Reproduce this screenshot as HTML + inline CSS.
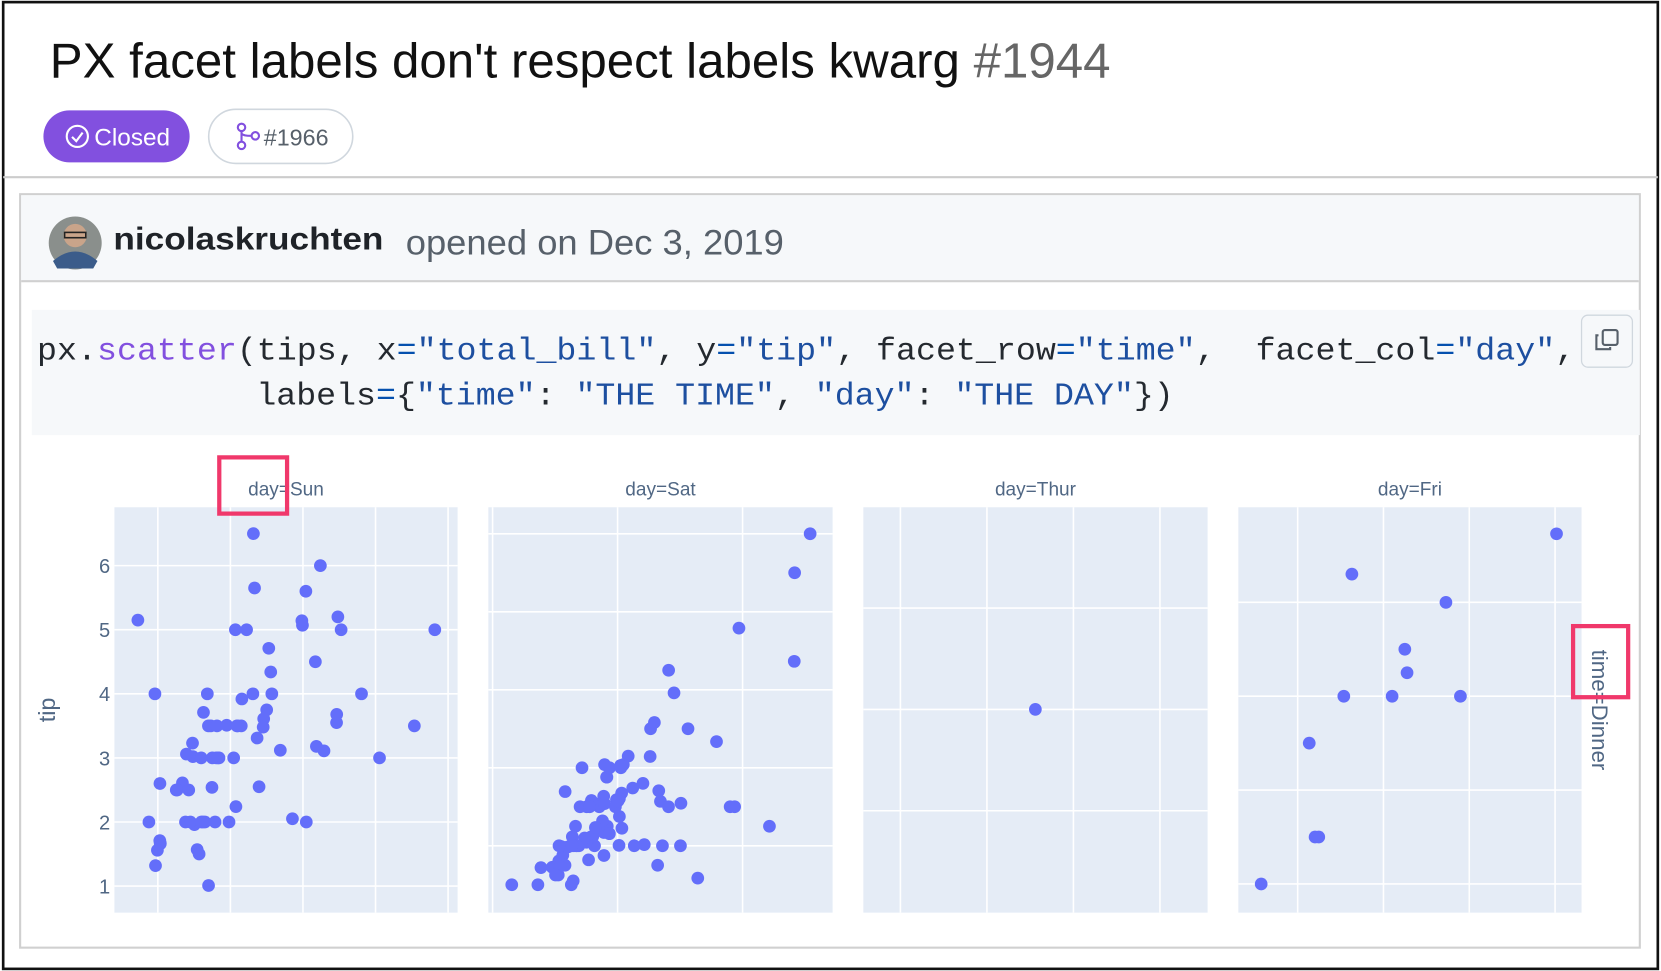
<!DOCTYPE html>
<html><head><meta charset="utf-8">
<style>
html,body{margin:0;padding:0;background:#fff;}
svg{display:block;}
</style></head>
<body>
<svg id="root" width="1661" height="971" viewBox="0 0 1568 915" preserveAspectRatio="none" xmlns="http://www.w3.org/2000/svg">
  <rect x="0" y="0" width="1568" height="915" fill="#fff"/>
  <rect x="3" y="2" width="1562" height="911" fill="none" stroke="#111" stroke-width="2.5"/>
  <text x="47" y="73" font-family="Liberation Sans, sans-serif" font-size="46.5" fill="#111">PX facet labels don't respect labels kwarg <tspan fill="#666">#1944</tspan></text>
  <g>
    <rect x="41" y="104" width="138" height="49" rx="24.5" fill="#8250df"/>
    <circle cx="73" cy="128.5" r="10" fill="none" stroke="#fff" stroke-width="2"/>
    <path d="M68 129 l4 4 l6 -8" fill="none" stroke="#fff" stroke-width="2"/>
    <text x="89" y="137" font-family="Liberation Sans, sans-serif" font-size="23" fill="#fff">Closed</text>
  </g>
  <g>
    <rect x="197" y="103" width="136" height="51" rx="25.5" fill="#fff" stroke="#d0d7de" stroke-width="1.5"/>
    <circle cx="228" cy="120" r="3.5" fill="none" stroke="#8250df" stroke-width="2"/>
    <circle cx="228" cy="137" r="3.5" fill="none" stroke="#8250df" stroke-width="2"/>
    <circle cx="241" cy="128" r="3.5" fill="none" stroke="#8250df" stroke-width="2"/>
    <path d="M228 123 v10 M228 126 q2 2 9 2" fill="none" stroke="#8250df" stroke-width="2"/>
    <text x="249" y="137" font-family="Liberation Sans, sans-serif" font-size="22" fill="#57606a">#1966</text>
  </g>
  <line x1="3" y1="167" x2="1565" y2="167" stroke="#ccc" stroke-width="2"/>
  <rect x="19" y="183" width="1529" height="710" fill="#fff" stroke="#d0d0d0" stroke-width="2"/>
  <rect x="20" y="184" width="1527" height="81" fill="#f6f8fa"/>
  <line x1="20" y1="265" x2="1547" y2="265" stroke="#d0d0d0" stroke-width="2"/>
  <g>
    <circle cx="71" cy="229" r="25" fill="#8a8f8c"/>
    <circle cx="71" cy="222" r="11" fill="#c9a48a"/>
    <path d="M50 246 q21 -18 42 0 l-4 7 h-34z" fill="#3b5c8a"/>
    <rect x="61" y="219" width="20" height="5" fill="none" stroke="#222" stroke-width="1.5"/>
  </g>
  <text x="107" y="235" font-family="Liberation Sans, sans-serif" font-size="30" font-weight="bold" fill="#1f2328" textLength="255" lengthAdjust="spacingAndGlyphs">nicolaskruchten</text>
  <text x="383" y="240" font-family="Liberation Sans, sans-serif" font-size="33" fill="#57606a" textLength="357" lengthAdjust="spacingAndGlyphs">opened on Dec 3, 2019</text>
  <rect x="30" y="292" width="1518" height="118" fill="#f6f8fa"/>
  <text x="35" y="339" font-family="Liberation Mono, monospace" font-size="30" fill="#24292f" textLength="1452" lengthAdjust="spacingAndGlyphs" xml:space="preserve">px.<tspan fill="#8250df">scatter</tspan>(tips, x<tspan fill="#0550ae">=</tspan><tspan fill="#1d4fa0">"total_bill"</tspan>, y<tspan fill="#0550ae">=</tspan><tspan fill="#1d4fa0">"tip"</tspan>, facet_row<tspan fill="#0550ae">=</tspan><tspan fill="#1d4fa0">"time"</tspan>,  facet_col<tspan fill="#0550ae">=</tspan><tspan fill="#1d4fa0">"day"</tspan>,</text>
  <text x="242" y="381" font-family="Liberation Mono, monospace" font-size="30" fill="#24292f" textLength="866" lengthAdjust="spacingAndGlyphs" xml:space="preserve">labels<tspan fill="#0550ae">=</tspan>{<tspan fill="#1d4fa0">"time"</tspan>: <tspan fill="#1d4fa0">"THE TIME"</tspan>, <tspan fill="#1d4fa0">"day"</tspan>: <tspan fill="#1d4fa0">"THE DAY"</tspan>})</text>
  <g>
    <rect x="1493" y="297" width="48" height="49" rx="6" fill="#f6f8fa" stroke="#d0d7de" stroke-width="1.2"/>
    <rect x="1513" y="311" width="14" height="14" rx="2" fill="none" stroke="#57606a" stroke-width="2"/>
    <path d="M1509 316 h-2 v13 h13 v-2" fill="none" stroke="#57606a" stroke-width="2"/>
  </g>
  <g id="chart"></g>
  <rect x="207" y="431" width="64" height="53" fill="none" stroke="#f0386b" stroke-width="4"/>
  <rect x="1485" y="590" width="52" height="67" fill="none" stroke="#f0386b" stroke-width="4"/>
</svg>
<script>
const panelNames = ["Sun", "Sat", "Thur", "Fri"];
const sunBill = [16.99,10.34,21.01,23.68,24.59,25.29,8.77,26.88,15.04,14.78,10.27,35.26,15.42,18.43,14.83,21.58,10.33,16.29,16.97,17.46,13.94,9.68,30.40,18.29,22.23,32.40,28.55,18.04,12.54,10.29,34.81,9.94,25.56,19.49,38.07,23.95,25.71,17.31,29.93,29.85,48.17,25.00,13.39,16.49,21.50,12.66,16.21,13.81,17.51,24.52,20.76,31.71,7.25,31.85,16.82,32.90,17.89,14.48,9.60,34.63,34.65,23.33,45.35,23.17,40.55,20.69,20.90,30.46,18.15,23.10,15.69,14.26,16.00,15.98,20.45,19.81];
const sunTip = [1.01,1.66,3.50,3.31,3.61,4.71,2.00,3.12,1.96,3.23,1.71,5.00,1.57,3.00,3.02,3.92,1.67,3.71,3.50,2.54,3.06,1.32,5.60,3.00,5.00,6.00,2.05,3.00,2.50,2.60,5.20,1.56,4.34,3.51,4.00,2.55,4.00,3.50,5.07,5.14,5.00,3.75,2.61,2.00,3.50,2.50,2.00,2.00,3.00,3.48,2.24,4.50,5.15,3.18,4.00,3.11,2.00,2.00,4.00,3.55,3.68,5.65,3.50,6.50,3.00,5.00,3.50,2.00,3.50,4.00,1.50,2.50,2.00,3.00,3.00,2.00];
const satBill = [20.65,17.92,20.29,15.77,39.42,19.82,17.81,13.37,12.69,21.70,19.65,9.55,18.35,15.06,20.69,17.78,24.06,16.31,16.93,18.69,31.27,16.04,38.01,26.41,11.24,48.27,20.29,13.81,11.02,18.29,17.59,20.08,16.45,3.07,20.23,15.01,12.02,17.07,26.86,25.28,14.73,10.51,17.92,44.30,22.42,20.92,15.36,20.49,25.21,18.24,14.31,14.00,7.25,10.59,10.63,50.81,15.81,26.59,38.73,24.27,12.76,30.06,25.89,48.33,13.27,28.17,12.90,28.15,11.59,7.74,30.14,11.61,10.77,15.53,10.07,12.60,32.83,35.83,29.03,27.18,22.67,17.82,13.00,13.51,18.71,12.74,20.53];
const satTip = [3.35,4.08,2.75,2.23,7.58,3.18,2.34,2.00,2.00,4.30,3.00,1.45,2.50,3.00,2.45,3.27,3.60,2.00,3.07,2.31,5.00,2.24,3.00,1.50,1.76,6.73,3.21,2.00,1.98,3.76,2.64,3.15,2.47,1.00,2.01,2.09,1.97,3.00,3.14,5.00,2.20,1.25,3.08,2.50,3.48,4.08,1.64,4.06,4.29,3.76,4.00,3.00,1.00,1.61,2.00,10.00,3.16,3.41,3.00,2.03,2.23,2.00,5.16,9.00,2.50,6.50,1.10,3.00,1.50,1.44,3.09,3.39,1.47,3.00,1.25,1.00,1.17,4.67,5.92,2.00,2.00,1.75,2.00,2.00,4.00,2.01,4.00];
const thurBill = [18.78];
const thurTip = [3.00];
const friBill = [28.97,22.49,5.75,16.32,22.75,40.17,27.28,12.03,21.01,12.46,11.35,15.38];
const friTip = [3.00,3.50,1.00,4.30,3.25,4.73,4.00,1.50,3.00,1.50,2.50,3.00];
const sunYTicks = [1,2,3,4,5,6];
const sunXGrid = [10,20,30,40,50];
const satYGrid = [2,4,6,8,10];
const satXGrid = [0,20,40];
const thurYGrid = [2,3,4];
const thurXGrid = [18,18.5,19,19.5];
const friYGrid = [1,2,3,4];
const friXGrid = [10,20,30,40];

const NS = "http://www.w3.org/2000/svg";
const chart = document.getElementById("chart");
function el(tag, attrs, parent){const e=document.createElementNS(NS,tag);for(const k in attrs)e.setAttribute(k,attrs[k]);(parent||chart).appendChild(e);return e;}
function lin(d0,d1,r0,r1){return v=>r0+(v-d0)*(r1-r0)/(d1-d0);}

const pTop=478, pBot=860;
const panels = [
  {name:"Sun", x0:108, x1:432, xs:lin(10,50,149,423), ys:lin(1,6,835,533), xg:sunXGrid, yg:sunYTicks, bx:sunBill, ty:sunTip},
  {name:"Sat", x0:461, x1:786, xs:lin(0,40,465,701), ys:lin(2,10,797,503), xg:satXGrid, yg:satYGrid, bx:satBill, ty:satTip},
  {name:"Thur", x0:815, x1:1140, xs:lin(18,19.5,850,1095), ys:lin(2,4,764,573), xg:thurXGrid, yg:thurYGrid, bx:thurBill, ty:thurTip},
  {name:"Fri", x0:1169, x1:1493, xs:lin(10,40,1225,1468), ys:lin(1,4,833,567.6), xg:friXGrid, yg:friYGrid, bx:friBill, ty:friTip}
];
panels.forEach((p,i)=>{
  const g = el("g",{});
  
  
  const bg = el("rect",{x:p.x0,y:pTop,width:p.x1-p.x0,height:pBot-pTop,fill:"#e5ecf6"},g);
  
  
  p.xg.forEach(v=>{
    const x=p.xs(v);
    const l=el("line",{x1:x,x2:x,y1:pTop,y2:pBot,stroke:"#fff","stroke-width":1.5},g);
    
    
  });
  p.yg.forEach(v=>{
    const y=p.ys(v);
    const l=el("line",{x1:p.x0,x2:p.x1,y1:y,y2:y,stroke:"#fff","stroke-width":1.5},g);
    
    
  });
  const t=el("text",{x:(p.x0+p.x1)/2,y:467,"text-anchor":"middle","font-family":"Liberation Sans, sans-serif","font-size":18,fill:"#506784"},g);
  t.textContent="day="+p.name;
  
  
  p.bx.forEach((b,j)=>{
    const c=el("circle",{cx:p.xs(b),cy:p.ys(p.ty[j]),r:6,fill:"#636efa"},g);
    
    
  });
});
sunYTicks.forEach(v=>{
  const t=el("text",{x:104,y:panels[0].ys(v)+7,"text-anchor":"end","font-family":"Liberation Sans, sans-serif","font-size":19,fill:"#506784"});
  t.textContent=String(v);
  
  
});
const yt=el("text",{x:0,y:0,transform:"translate(52,669) rotate(-90)","text-anchor":"middle","font-family":"Liberation Sans, sans-serif","font-size":22,fill:"#506784"});
yt.textContent="tip";


const rt=el("text",{x:0,y:0,transform:"translate(1503,669) rotate(90)","text-anchor":"middle","font-family":"Liberation Sans, sans-serif","font-size":21,fill:"#506784"});
rt.textContent="time=Dinner";


</script>
</body></html>
